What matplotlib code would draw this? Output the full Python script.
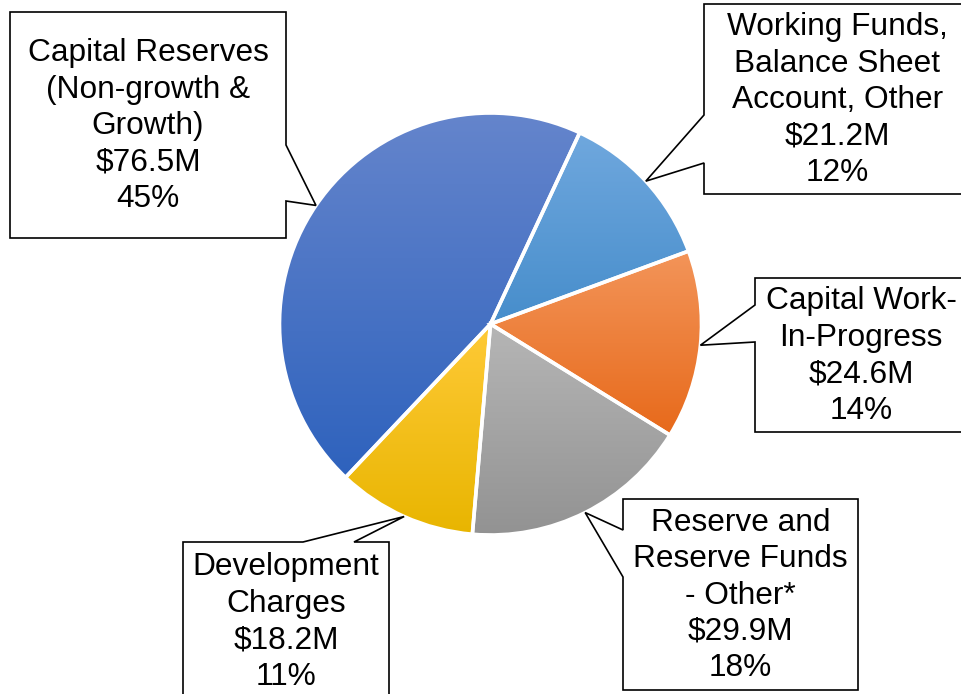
import numpy as np
import matplotlib
matplotlib.use("Agg")
import matplotlib.pyplot as plt
from matplotlib.patches import Polygon
from matplotlib.colors import to_rgb

# ---- data (clockwise from the top-right slice) ----
categories = [
    "Working Funds,\nBalance Sheet\nAccount, Other",
    "Capital Work-\nIn-Progress",
    "Reserve and\nReserve Funds\n- Other*",
    "Development\nCharges",
    "Capital Reserves\n(Non-growth &\nGrowth)",
]
values = [21.2, 24.6, 29.9, 18.2, 76.5]  # $ millions

# gradient colours (top -> bottom of each slice)
top_colors = ["#70A8DE", "#F3955A", "#B6B6B6", "#FFCA38", "#6585CC"]
bottom_colors = ["#468DCB", "#E7691A", "#929292", "#E8B500", "#2E62BD"]

# callout boxes in pixel coords: (x0, y0, x1, y1, side, a, b)
boxes = [
    (704, 4, 971, 194, "left", 115, 163),
    (755, 278, 967, 432, "left", 305, 342),
    (623, 499, 858, 690, "left", 530, 577),
    (183, 542, 389, 700, "top", 303, 354),
    (10, 12, 286, 238, "right", 145, 201),
]

W, H = 961, 694
fig = plt.figure(figsize=(W / 100, H / 100), dpi=100)
ax = fig.add_axes([0, 0, 1, 1])


def P(x, y):
    return (x, H - y)


cx, cy = P(490.5, 324)
R = 211
START = 65

wedges, _ = ax.pie(values, startangle=START, counterclock=False,
                   center=(cx, cy), radius=R, colors=bottom_colors,
                   wedgeprops=dict(linewidth=0))

total = sum(values)
for i, w in enumerate(wedges):
    t1, t2 = w.theta1, w.theta2
    angs = np.radians(np.linspace(t1, t2, 200))
    ys = np.concatenate([[cy], cy + R * np.sin(angs)])
    xs = np.concatenate([[cx], cx + R * np.cos(angs)])
    c_top = np.array(to_rgb(top_colors[i]))
    c_bot = np.array(to_rgb(bottom_colors[i]))
    n = 256
    f = np.linspace(0, 1, n)[:, None]
    grad = (c_bot * (1 - f) + c_top * f)[:, None, :]
    im = ax.imshow(grad, extent=[xs.min() - 2, xs.max() + 2, ys.min() - 2, ys.max() + 2],
                   origin="lower", aspect="auto", zorder=2, interpolation="bilinear")
    im.set_clip_path(w)
    w.set_zorder(3)
    w.set_facecolor("none")
    w.set_edgecolor("white")
    w.set_linewidth(2.6)

# callouts
for i, (w, (x0, y0, x1, y1, side, a, b)) in enumerate(zip(wedges, boxes)):
    mid = np.radians((w.theta1 + w.theta2) / 2)
    tip = (cx + R * np.cos(mid), cy + R * np.sin(mid))
    if side == "left":
        pts = [P(x0, y0), P(x1, y0), P(x1, y1), P(x0, y1), P(x0, b), tip, P(x0, a)]
    elif side == "right":
        pts = [P(x0, y0), P(x1, y0), P(x1, a), tip, P(x1, b), P(x1, y1), P(x0, y1)]
    else:  # top
        pts = [P(x0, y0), P(a, y0), tip, P(b, y0), P(x1, y0), P(x1, y1), P(x0, y1)]
    ax.add_patch(Polygon(pts, closed=True, facecolor="white", edgecolor="black",
                         linewidth=1.2, zorder=4, joinstyle="miter"))
    pct = round(values[i] / total * 100)
    label = f"{categories[i]}\n${values[i]}M\n{pct}%"
    tx, ty = P((x0 + x1) / 2, (y0 + y1) / 2 + 1)
    if side == "top":
        tx, ty = P((x0 + x1) / 2, 622)
    ax.text(tx, ty, label, ha="center", va="center", fontsize=22.8,
            family="Liberation Sans", color="black", linespacing=1.28, zorder=5)

ax.set_xlim(0, W)
ax.set_ylim(0, H)
ax.set_aspect("equal")
ax.axis("off")
fig.savefig("out.png", dpi=100)
